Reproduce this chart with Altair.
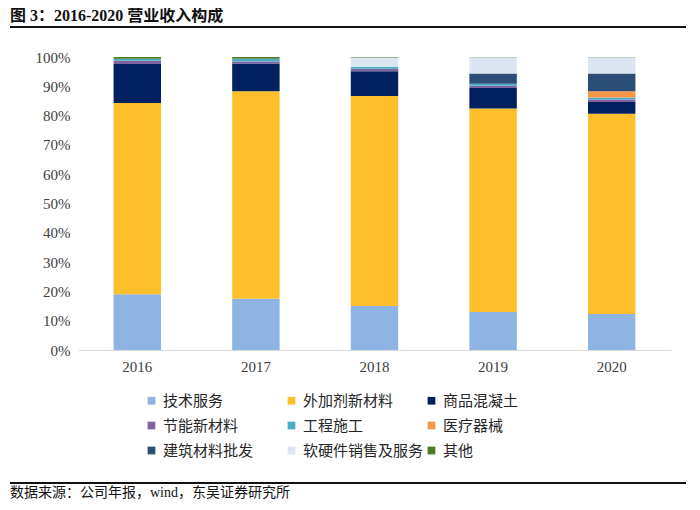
import altair as alt
import pandas as pd

years = ["2016", "2017", "2018", "2019", "2020"]
segments = ["技术服务", "外加剂新材料", "商品混凝土", "节能新材料", "工程施工",
            "医疗器械", "建筑材料批发", "软硬件销售及服务", "其他"]
colors = ["#8EB4E3", "#FFBF2B", "#002060", "#8064A2", "#4BACC6",
          "#F79646", "#2C4D75", "#DCE6F2", "#4F7A28"]

# share (%) of each segment per year, 2016..2020
s_tech = [19.0, 17.5, 15.0, 13.0, 12.3]
s_admix = [65.3, 70.8, 71.7, 69.4, 68.3]
s_concrete = [13.3, 9.5, 8.4, 7.0, 4.0]
s_energy = [1.1, 0.7, 0.9, 0.8, 0.9]
s_eng = [0.7, 0.9, 0.6, 0.7, 0.7]
s_med = [0.0, 0.0, 0.0, 0.0, 2.1]
s_build = [0.0, 0.0, 0.0, 3.5, 6.1]
s_soft = [0.0, 0.0, 3.2, 5.5, 5.5]
s_other = [0.6, 0.6, 0.2, 0.1, 0.1]

series = [s_tech, s_admix, s_concrete, s_energy, s_eng, s_med, s_build, s_soft, s_other]

rows = []
for i, (seg, vals) in enumerate(zip(segments, series)):
    for y, v in zip(years, vals):
        rows.append({"year": y, "segment": seg, "idx": i, "value": v / 100.0})
df = pd.DataFrame(rows)

serif = "Liberation Serif, Noto Sans CJK SC"
cjk = "Noto Sans CJK SC"

bars = alt.Chart(df).mark_bar().encode(
    x=alt.X("year:N", sort=years,
            scale=alt.Scale(paddingInner=0.6, paddingOuter=0.3),
            axis=alt.Axis(title=None, labelAngle=0, ticks=False, domainColor="#D9D9D9",
                          labelFont=serif, labelFontSize=15, labelColor="#404040",
                          labelPadding=9)),
    y=alt.Y("value:Q", stack="zero",
            scale=alt.Scale(domain=[0, 1], nice=False),
            axis=alt.Axis(title=None, format=".0%", values=[i / 10 for i in range(11)],
                          grid=False, ticks=False, domain=False,
                          labelFont=serif, labelFontSize=15, labelColor="#404040",
                          labelPadding=8)),
    color=alt.Color("segment:N", sort=segments,
                    scale=alt.Scale(domain=segments, range=colors),
                    legend=alt.Legend(title=None, orient="none", legendX=66, legendY=336,
                                      direction="horizontal", columns=3, gridAlign="all",
                                      columnPadding=0, rowPadding=9,
                                      symbolType="square", symbolSize=60,
                                      symbolStrokeWidth=0,
                                      labelFont=cjk, labelFontSize=15,
                                      labelColor="#262626", labelLimit=200)),
    order=alt.Order("idx:Q", sort="ascending"),
)

one = alt.Data(values=[{"a": 1}])

title = alt.Chart(one).mark_text(
    align="left", baseline="top", font=serif, fontSize=16, fontWeight="bold",
    color="#111111"
).encode(x=alt.value(-68), y=alt.value(-49), text=alt.value("图 3：2016-2020 营业收入构成"))

top_rule = alt.Chart(one).mark_rule(color="#111111", strokeWidth=2).encode(
    x=alt.value(-68), x2=alt.value(612), y=alt.value(-30))

bottom_rule = alt.Chart(one).mark_rule(color="#111111", strokeWidth=2).encode(
    x=alt.value(-68), x2=alt.value(612), y=alt.value(426))

source = alt.Chart(one).mark_text(
    align="left", baseline="middle", font=serif, fontSize=14, color="#111111"
).encode(x=alt.value(-68), y=alt.value(436),
         text=alt.value("数据来源：公司年报，wind，东吴证券研究所"))

chart = alt.layer(bars, title, top_rule, bottom_rule, source).properties(
    width=593, height=293,
    autosize=alt.AutoSizeParams(type="none"),
    padding={"left": 70, "top": 49, "right": 15, "bottom": 152},
).configure_view(stroke=None)

chart.save("out.html", embed_options={"renderer": "svg", "actions": False})
